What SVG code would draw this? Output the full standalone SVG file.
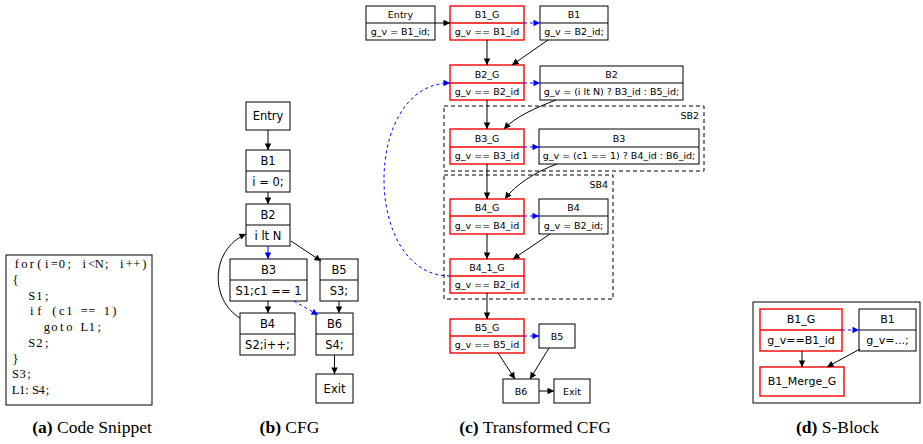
<svg xmlns="http://www.w3.org/2000/svg" width="923" height="444" viewBox="0 0 923 444">
<style>
.n{fill:#fff;stroke:#000;stroke-width:1}
.r{fill:#fff;stroke:#ff0000;stroke-width:1.4}
.dv{stroke:#000;stroke-width:1}
.dr{stroke:#ff0000;stroke-width:1.4}
.t{font-family:"DejaVu Sans",sans-serif;font-size:9.5px;text-anchor:middle;dominant-baseline:central;fill:#000}
.tb{font-size:11.5px}
.td{font-size:11px}
.e{stroke:#000;fill:none;stroke-width:1;marker-end:url(#ak)}
.eb{stroke:#0000ff;fill:none;stroke-width:1;marker-end:url(#ab)}
.dash{stroke-dasharray:3,3}
.sb{fill:none;stroke:#000;stroke-width:1;stroke-dasharray:4,3}
.code{font-family:"Liberation Serif",serif;font-size:12.5px;fill:#000;text-anchor:middle}
.cap{font-family:"Liberation Serif",serif;font-size:17.5px;text-anchor:middle;fill:#000}
</style>
<defs>
<marker id="ak" viewBox="0 0 10 10" refX="10" refY="5" markerUnits="userSpaceOnUse" markerWidth="8.5" markerHeight="6.5" orient="auto"><path d="M0,0 L10,5 L0,10 z" fill="#000"/></marker>
<marker id="ab" viewBox="0 0 10 10" refX="10" refY="5" markerUnits="userSpaceOnUse" markerWidth="8.5" markerHeight="6.5" orient="auto"><path d="M0,0 L10,5 L0,10 z" fill="#0000ff"/></marker>
</defs>
<rect width="923" height="444" fill="#fff"/>

<!-- (a) code snippet -->
<g id="code">
<rect x="6" y="255" width="146" height="150" fill="#fff" stroke="#000" stroke-width="1"/>
<text class="code" y="268" x="16.75 24.25 31.75 39.25 46.75 54.25 61.75 69.25 76.75 84.25 91.75 99.25 106.75 114.25 121.75 129.25 136.75 144.25">for(i=0; i&lt;N; i++)</text>
<text class="code" y="283.75" x="15.5">{</text>
<text class="code" y="299.5" x="31.75 39.25 46.75">S1;</text>
<text class="code" y="315.25" x="31.75 39.25 46.75 54.25 61.75 69.25 76.75 84.25 91.75 99.25 106.75 114.25">if (c1 == 1)</text>
<text class="code" y="331" x="46.75 54.25 61.75 69.25 76.75 84.25 91.75 99.25">goto L1;</text>
<text class="code" y="346.75" x="31.75 39.25 46.75">S2;</text>
<text class="code" y="362.5" x="15.5">}</text>
<text class="code" y="378.25" x="15.5 22.5 29">S3;</text>
<text class="code" y="394" x="15.5 22 27 31 35.5 41.5 47.5">L1: S4;</text>
</g>

<!-- (b) CFG -->
<g id="b-entry"><rect class="n" x="246" y="102" width="44" height="28"/><text class="t tb" x="268" y="116">Entry</text></g>
<g id="b-B1"><rect class="n" x="246" y="150" width="44" height="42"/><line class="dv" x1="246" y1="171" x2="290" y2="171"/><text class="t tb" x="268" y="160.5">B1</text><text class="t tb" x="268" y="181.5">i = 0;</text></g>
<g id="b-B2"><rect class="n" x="246" y="204" width="44" height="42"/><line class="dv" x1="246" y1="225" x2="290" y2="225"/><text class="t tb" x="268" y="214.5">B2</text><text class="t tb" x="268" y="235.5">i lt N</text></g>
<g id="b-B3"><rect class="n" x="230" y="259" width="77" height="42"/><line class="dv" x1="230" y1="280" x2="307" y2="280"/><text class="t tb" x="268.5" y="269.5">B3</text><text class="t tb" x="268.5" y="290.5">S1;c1 == 1</text></g>
<g id="b-B5"><rect class="n" x="320" y="259" width="38" height="42"/><line class="dv" x1="320" y1="280" x2="358" y2="280"/><text class="t tb" x="339" y="269.5">B5</text><text class="t tb" x="339" y="290.5">S3;</text></g>
<g id="b-B4"><rect class="n" x="240" y="313" width="55" height="42"/><line class="dv" x1="240" y1="334" x2="295" y2="334"/><text class="t tb" x="267.5" y="323.5">B4</text><text class="t tb" x="267.5" y="344.5">S2;i++;</text></g>
<g id="b-B6"><rect class="n" x="316" y="313" width="37" height="42"/><line class="dv" x1="316" y1="334" x2="353" y2="334"/><text class="t tb" x="334.5" y="323.5">B6</text><text class="t tb" x="334.5" y="344.5">S4;</text></g>
<g id="b-exit"><rect class="n" x="316" y="374" width="37" height="29"/><text class="t tb" x="334.5" y="388.5">Exit</text></g>

<!-- (c) Transformed CFG -->
<g id="c-SB2"><rect class="sb" x="444" y="106" width="260" height="65"/><text class="t" x="699" y="115" style="text-anchor:end">SB2</text></g>
<g id="c-SB4"><rect class="sb" x="444" y="175" width="169" height="124"/><text class="t" x="608" y="184" style="text-anchor:end">SB4</text></g>
<g id="c-entry"><rect class="n" x="366" y="6" width="69" height="34"/><line class="dv" x1="366" y1="23" x2="435" y2="23"/><text class="t" x="400.5" y="14.5">Entry</text><text class="t" x="400.5" y="31.5">g_v = B1_id;</text></g>
<g id="c-B1_G"><rect class="r" x="450" y="6" width="74" height="34"/><line class="dr" x1="450" y1="23" x2="524" y2="23"/><text class="t" x="487" y="14.5">B1_G</text><text class="t" x="487" y="31.5">g_v == B1_id</text></g>
<g id="c-B1"><rect class="n" x="540" y="6" width="68" height="34"/><line class="dv" x1="540" y1="23" x2="608" y2="23"/><text class="t" x="574" y="14.5">B1</text><text class="t" x="574" y="31.5">g_v = B2_id;</text></g>
<g id="c-B2_G"><rect class="r" x="450" y="65" width="74" height="35"/><line class="dr" x1="450" y1="83" x2="524" y2="83"/><text class="t" x="487" y="74">B2_G</text><text class="t" x="487" y="91.5">g_v == B2_id</text></g>
<g id="c-B2"><rect class="n" x="540" y="66" width="143" height="34"/><line class="dv" x1="540" y1="83" x2="683" y2="83"/><text class="t" x="611.5" y="74.5">B2</text><text class="t" x="611.5" y="91.5">g_v = (i lt N) ? B3_id : B5_id;</text></g>
<g id="c-B3_G"><rect class="r" x="450" y="129" width="74" height="35"/><line class="dr" x1="450" y1="147" x2="524" y2="147"/><text class="t" x="487" y="138">B3_G</text><text class="t" x="487" y="155.5">g_v == B3_id</text></g>
<g id="c-B3"><rect class="n" x="539" y="129" width="160" height="35"/><line class="dv" x1="539" y1="147" x2="699" y2="147"/><text class="t" x="619" y="138">B3</text><text class="t" x="619" y="155.5">g_v = (c1 == 1) ? B4_id : B6_id;</text></g>
<g id="c-B4_G"><rect class="r" x="450" y="199" width="74" height="35"/><line class="dr" x1="450" y1="216" x2="524" y2="216"/><text class="t" x="487" y="207.5">B4_G</text><text class="t" x="487" y="225">g_v == B4_id</text></g>
<g id="c-B4"><rect class="n" x="539" y="199" width="69" height="35"/><line class="dv" x1="539" y1="216" x2="608" y2="216"/><text class="t" x="573.5" y="207.5">B4</text><text class="t" x="573.5" y="225">g_v = B2_id;</text></g>
<g id="c-B4_1_G"><rect class="r" x="450" y="259" width="74" height="34"/><line class="dr" x1="450" y1="276" x2="524" y2="276"/><text class="t" x="487" y="267.5">B4_1_G</text><text class="t" x="487" y="284.5">g_v == B2_id</text></g>
<g id="c-B5_G"><rect class="r" x="450" y="319" width="74" height="34"/><line class="dr" x1="450" y1="336" x2="524" y2="336"/><text class="t" x="487" y="327.5">B5_G</text><text class="t" x="487" y="344.5">g_v == B5_id</text></g>
<g id="c-B5"><rect class="n" x="539" y="324" width="36" height="24"/><text class="t" x="557" y="336">B5</text></g>
<g id="c-B6"><rect class="n" x="503" y="379" width="36" height="24"/><text class="t" x="521" y="391">B6</text></g>
<g id="c-exit"><rect class="n" x="554" y="379" width="36" height="24"/><text class="t" x="572" y="391">Exit</text></g>

<!-- (d) S-Block -->
<g id="d-frame"><rect x="753" y="302" width="167" height="101" fill="none" stroke="#000" stroke-width="1"/></g>
<g id="d-B1_G"><rect class="r" x="760" y="309" width="82" height="42"/><line class="dr" x1="760" y1="330" x2="842" y2="330"/><text class="t td" x="801" y="319.5">B1_G</text><text class="t td" x="801" y="340.5">g_v==B1_id</text></g>
<g id="d-B1"><rect class="n" x="859" y="309" width="57" height="42"/><line class="dv" x1="859" y1="330" x2="916" y2="330"/><text class="t td" x="887.5" y="319.5">B1</text><text class="t td" x="887.5" y="340.5">g_v=...;</text></g>
<g id="d-B1_Merge_G"><rect class="r" x="760" y="367" width="84" height="29"/><text class="t td" x="802" y="381.5">B1_Merge_G</text></g>

<!-- connectors -->
<g id="connectors">
<path class="e" d="M268,130 L268,150"/>
<path class="e" d="M268,192 L268,204"/>
<path class="eb" d="M268,246 L268,259"/>
<path class="e" d="M291,241 L321,261"/>
<path class="e" d="M268,301 L268,313"/>
<path class="eb dash" d="M294,301 L318,315"/>
<path class="e" d="M339,301 L339,313"/>
<path class="e" d="M334.5,355 L334.5,374"/>
<path class="e" d="M240,318 C210,300 210,250 246,234"/>

<path class="e" d="M435,23 L450,23"/>
<path class="eb dash" d="M524,23 L540,23"/>
<path class="e" d="M487,40 L487,65"/>
<path class="e" d="M548,40 L512,65"/>
<path class="eb dash" d="M524,83 L540,83"/>
<path class="e" d="M487,100 L487,129"/>
<path class="e" d="M556,100 C535,108 515,117 504,129"/>
<path class="eb dash" d="M524,147 L539,147"/>
<path class="e" d="M487,164 L487,199"/>
<path class="e" d="M557,164 C535,172 515,185 505,199"/>
<path class="eb dash" d="M524,216 L539,216"/>
<path class="e" d="M487,234 L487,259"/>
<path class="e" d="M550,234 L513,259"/>
<path class="eb dash" d="M450,276 C362,276 362,83 450,83"/>
<path class="e" d="M487,293 L487,319"/>
<path class="eb dash" d="M524,336 L539,336"/>
<path class="e" d="M498,353 L515,379"/>
<path class="e" d="M549,348 L530,379"/>
<path class="e" d="M539,391 L554,391"/>

<path class="eb dash" d="M842,330 L859,330"/>
<path class="e" d="M802,351 L802,367"/>
<path class="e" d="M860,349 L827,367"/>
</g>

<!-- captions -->
<text class="cap" x="92" y="433"><tspan font-weight="bold">(a)</tspan> Code Snippet</text>
<text class="cap" x="289.5" y="433"><tspan font-weight="bold">(b)</tspan> CFG</text>
<text class="cap" x="535" y="433"><tspan font-weight="bold">(c)</tspan> Transformed CFG</text>
<text class="cap" x="837.5" y="433"><tspan font-weight="bold">(d)</tspan> S-Block</text>
</svg>
